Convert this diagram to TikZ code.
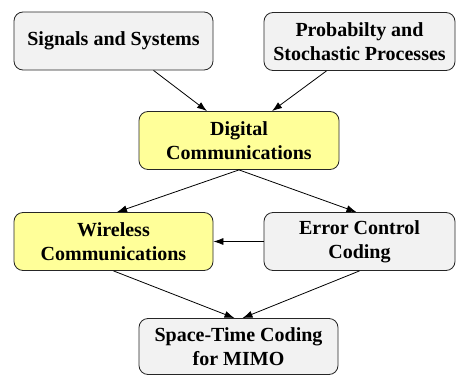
\documentclass[tikz,border=0pt]{standalone}
\usepackage{fontspec}
\setmainfont{Liberation Serif}
\usepackage{xcolor}
\usepackage{tikz}
\usetikzlibrary{shapes,arrows,positioning,calc,arrows.meta}

\definecolor{boxgray}{RGB}{242,242,242}
\definecolor{boxyellow}{RGB}{255,255,153}

\tikzset{
    course/.style={draw=black!85, line width=0.8pt, rounded corners=9pt, fill=boxgray,
        minimum height=58pt, align=center, inner sep=2pt,
        font=\fontsize{20}{24}\selectfont\bfseries},
    corecourse/.style={course, fill=boxyellow},
    prereq/.style={-{Latex[length=10pt,width=7pt]}, line width=0.8pt}
}

\begin{document}
\begin{tikzpicture}[x=1pt,y=1pt]
    \useasboundingbox (0,0) rectangle (456,-375);

    % Top row
    \node[course, minimum width=199pt] (sig) at (113.5,-41) {Signals and Systems};
    \node[course, minimum width=191pt] (prob) at (359.5,-41.5) {Probabilty and\\Stochastic Processes};

    % Middle
    \node[corecourse, minimum width=200pt] (dig) at (239,-140.5) {Digital\\Communications};

    % Second row
    \node[corecourse, minimum width=199pt] (wir) at (113.5,-241.5) {Wireless\\Communications};
    \node[course, minimum width=191pt] (ecc) at (359.5,-241.5) {Error Control\\Coding};

    % Bottom
    \node[course, minimum width=199pt, minimum height=56pt] (stc) at (238.5,-346.5) {Space-Time Coding\\for MIMO};

    % Arrows
    \draw[prereq] ([xshift=40pt]sig.south) -- ([xshift=-32pt]dig.north);
    \draw[prereq] ([xshift=-33pt]prob.south) -- ([xshift=33pt]dig.north);
    \draw[prereq] (dig.south) -- ([xshift=3.5pt]wir.north);
    \draw[prereq] (dig.south) -- ([xshift=-3pt]ecc.north);
    \draw[prereq] (ecc.west) -- (wir.east);
    \draw[prereq] (wir.south) -- ([xshift=-4pt]stc.north);
    \draw[prereq] (ecc.south) -- ([xshift=4pt]stc.north);
\end{tikzpicture}
\end{document}
